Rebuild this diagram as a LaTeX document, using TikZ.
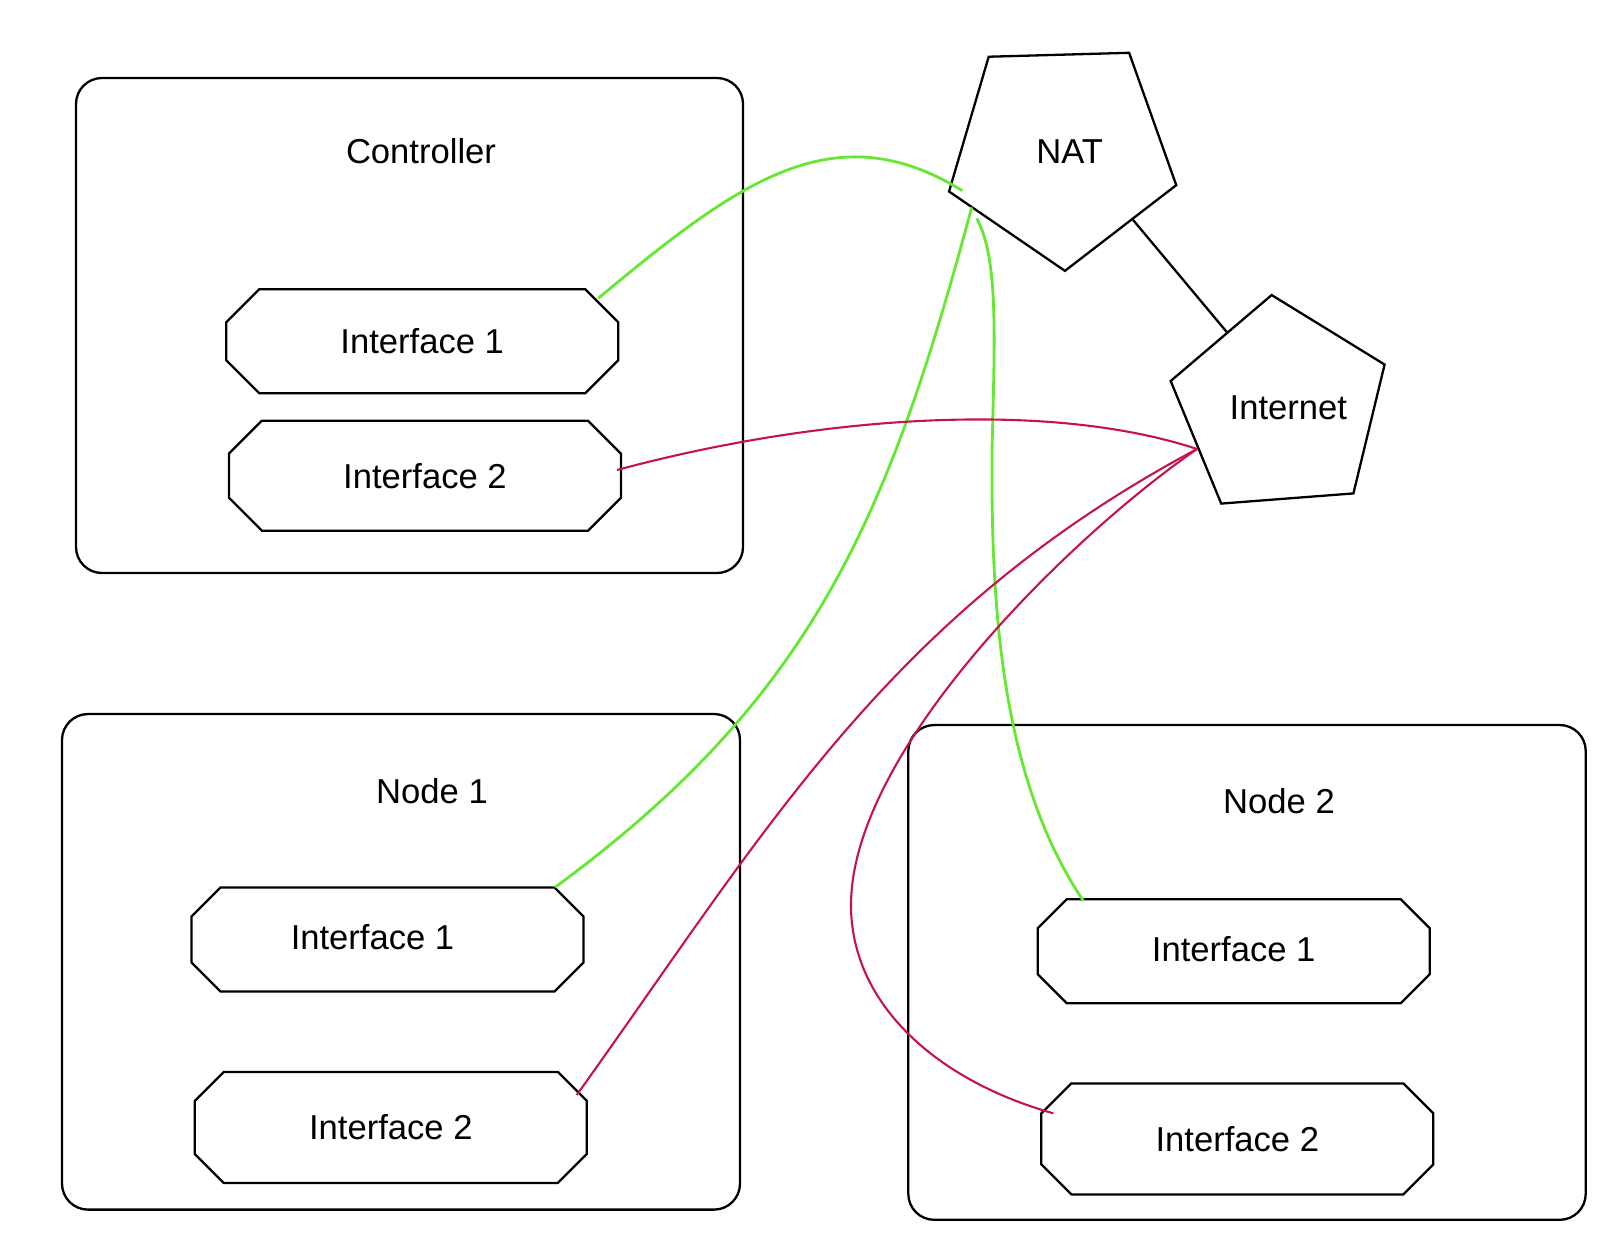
\documentclass[tikz,border=0pt]{standalone}
\usepackage{fontspec}
\setmainfont{Liberation Sans}
\usetikzlibrary{calc,shapes.geometric}
\definecolor{linkgreen}{RGB}{100,232,50}
\definecolor{linkred}{RGB}{198,20,72}
\begin{document}
\begin{tikzpicture}[x=0.5pt,y=-0.5pt,
  lbl/.style={font=\fontsize{17.3pt}{20pt}\selectfont, inner sep=0pt},
  hostbox/.style={draw, line width=1.15pt, rounded corners=13pt, inner sep=0pt, outer sep=0pt},
  iface/.style={rectangle, minimum width=196pt, inner sep=0pt, outer sep=0pt,
    font=\fontsize{17.3pt}{20pt}\selectfont},
  outline/.style={draw, line width=1.15pt},
  pent/.style={regular polygon, regular polygon sides=5, draw, line width=1.15pt,
    inner sep=0pt, outer sep=0pt, font=\fontsize{17.3pt}{20pt}\selectfont},
  greenlink/.style={draw=linkgreen, line width=1.4pt},
  redlink/.style={draw=linkred, line width=1.05pt},
  plainlink/.style={draw=black, line width=1.15pt}]
\useasboundingbox (0,0) rectangle (1598,1244);

% host boxes and their titles
\node[hostbox, minimum width=333.5pt, minimum height=247.5pt] (ctrl) at (409.5,325.5) {};
\node[lbl] (ctrltitle) at (421,151) {Controller};
\node[hostbox, minimum width=339pt, minimum height=247.8pt] (nodeA) at (401,961.8) {};
\node[lbl] (nodeAtitle) at (432,791) {Node 1};
\node[hostbox, minimum width=338.7pt, minimum height=247.4pt] (nodeB) at (1247,972.4) {};
\node[lbl] (nodeBtitle) at (1279,801) {Node 2};

% network interfaces
\node[iface, minimum height=52pt] (ci1) at (422.2,341.3) {\raisebox{-1pt}{Interface 1}};
\node[iface, minimum height=55pt] (ci2) at (424.9,475.7) {Interface 2};
\node[iface, minimum height=52pt] (ai1) at (387.5,939.5) {\raisebox{2.5pt}{Interface 1}\hspace*{15pt}};
\node[iface, minimum height=55.5pt] (ai2) at (390.8,1127.4) {Interface 2};
\node[iface, minimum height=52pt] (bi1) at (1233.7,951.3) {\raisebox{2.8pt}{Interface 1}};
\node[iface, minimum height=55.5pt] (bi2) at (1237.3,1138.9) {Interface 2};

% octagonal outlines of the interfaces (corner cut given per interface)
\foreach \n/\c in {ci1/16.5pt, ci2/16.5pt, ai1/14.5pt, ai2/14.5pt, bi1/14.5pt, bi2/15pt}
  \draw[outline] ([xshift=\c]\n.north west) -- ([xshift=-\c]\n.north east)
    -- ([yshift=-\c]\n.north east) -- ([yshift=\c]\n.south east)
    -- ([xshift=-\c]\n.south east) -- ([xshift=\c]\n.south west)
    -- ([yshift=\c]\n.south west) -- ([yshift=-\c]\n.north west) -- cycle;

% gateways (zero-width labels so the size is set by minimum size alone)
\node[pent, minimum size=119.5pt, shape border rotate=-34.4] (nat) at (1061.6,151.4)
  {\makebox[0pt]{\hspace*{8pt}NAT}};
\node[pent, minimum size=112.8pt, shape border rotate=4.4] (inet) at (1280.3,407.5)
  {\makebox[0pt]{\hspace*{8pt}Internet}};

% NAT uplink
\draw[plainlink] ($(nat.center)+(70.1,66.9)$) -- ($(inet.center)+(-53,-74.8)$);

% management network (green)
\draw[greenlink] ($(ci1.center)+(176.1,-43)$)
  .. controls +(141.7,-118.3) and +(-127.3,-78.7) .. ($(nat.center)+(-99.3,39.3)$);
\draw[greenlink] ($(nat.center)+(-89.9,55.9)$)
  .. controls +(-83.2,310.4) and +(258,-189.4) .. ($(ai1.center)+(167.5,-52.2)$);
\draw[greenlink] ($(nat.center)+(-84.9,66.9)$)
  .. controls +(21.3,39.7) and +(3,-120) .. (992,450)
  .. controls +(-1,150) and +(-84,-124.5) .. ($(bi1.center)+(-150.4,-50.6)$);

% public network (red)
\draw[redlink] ($(ci2.center)+(192.1,-5.7)$)
  .. controls +(200,-54) and +(-150,-49.5) .. ($(inet.center)+(-83.3,41.5)$);
\draw[redlink] ($(inet.center)+(-83.3,41.5)$)
  .. controls +(-308,164.5) and +(191.4,-267.3) .. ($(ai2.center)+(185.9,-32.4)$);
\draw[redlink] ($(inet.center)+(-83.3,41.5)$)
  .. controls +(-125,86) and +(0,-155) .. (851,905)
  .. controls +(0,100) and +(-115.2,-32.4) .. ($(bi2.center)+(-184,-25.6)$);
\end{tikzpicture}
\end{document}
